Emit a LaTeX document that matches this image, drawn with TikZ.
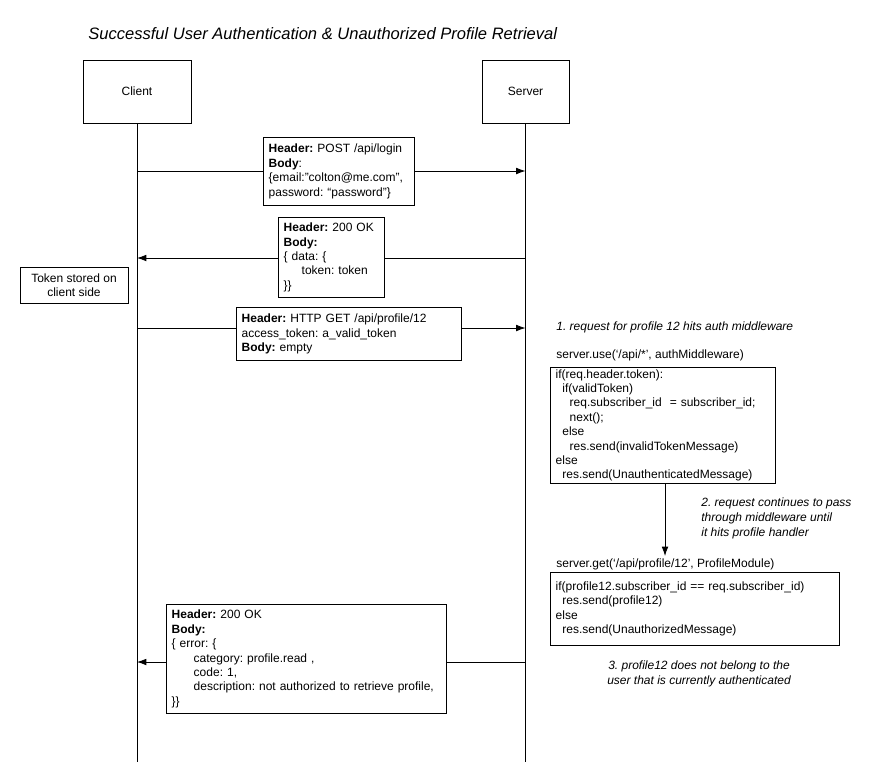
\documentclass[tikz,border=0pt]{standalone}
\usepackage{fontspec}
\setmainfont{Liberation Sans}
\frenchspacing
\usetikzlibrary{arrows, arrows.meta, positioning, calc}

\tikzset{
    actorbox/.style={draw, minimum height=47.25pt, font=\fontsize{9}{10.8}\selectfont},
    msgbox/.style={draw, fill=white, anchor=north west, align=left, inner xsep=4pt, inner ysep=1pt,
        font=\fontsize{9}{10.8}\selectfont},
    plaintext/.style={anchor=west, inner sep=0pt, font=\fontsize{9}{10.8}\selectfont},
    notetext/.style={inner sep=0pt, font=\fontsize{9}{11.25}\selectfont\itshape}
}

\begin{document}
\begin{tikzpicture}[>={Latex[length=7pt, width=5pt]}, x=0.75pt, y=-0.75pt, line width=0.6pt]
    \useasboundingbox (0,0) rectangle (884,782);

    \node[notetext, anchor=west, font=\fontsize{12.4}{14}\selectfont\itshape] (title) at (88,34)
        {Successful User Authentication \& Unauthorized Profile Retrieval};

    % actors and lifelines
    \node[actorbox, minimum width=81pt] (client) at (137,91.5) {Client};
    \node[actorbox, minimum width=65.25pt] (server) at (525.5,91.5) {Server};
    \coordinate (clientend) at (137,762);
    \coordinate (serverend) at (525.5,762);
    \draw (client) -- (clientend);
    \draw (server) -- (serverend);

    % login request
    \coordinate (c1) at (137,171);
    \coordinate (s1) at (525.5,171);
    \node[msgbox, text width=105.25pt, minimum height=51pt] (login) at (263,137)
        {\textbf{Header:} POST /api/login\\ \textbf{Body}:\\ \{email:”colton@me.com”,\\ password: “password”\}};
    \draw (c1) -- (c1 -| login.west);
    \draw[->] (c1 -| login.east) -- (s1);

    % login response
    \coordinate (c2) at (137,258);
    \coordinate (s2) at (525.5,258);
    \node[msgbox, text width=71.5pt, minimum height=60pt] (loginok) at (278,217)
        {\textbf{Header:} 200 OK\\ \textbf{Body:}\\ \{ data: \{\\ \hspace*{13.5pt}token: token\\ \}\}};
    \draw (s2) -- (s2 -| loginok.east);
    \draw[->] (s2 -| loginok.west) -- (c2);

    \node[draw, align=center, minimum width=81pt, minimum height=27pt, inner sep=1pt,
        font=\fontsize{9}{10.8}\selectfont] (stored) at (74,285) {Token stored on\\ client side};

    % profile request
    \coordinate (c3) at (137,328);
    \coordinate (s3) at (525.5,328);
    \node[msgbox, text width=160.75pt, minimum height=39.75pt] (getprofile) at (236,307)
        {\textbf{Header:} HTTP GET /api/profile/12\\ access\_token: a\_valid\_token\\ \textbf{Body:} empty};
    \draw (c3) -- (c3 -| getprofile.west);
    \draw[->] (c3 -| getprofile.east) -- (s3);

    % server side
    \node[notetext, anchor=west] (step1) at (556,327) {1. request for profile 12 hits auth middleware};
    \node[plaintext] (use) at (556,355) {server.use(‘/api/*’, authMiddleware)};
    \node[msgbox, text width=160.75pt, minimum height=87pt] (auth) at (550,367)
        {if(req.header.token):\\
         \hspace*{5pt}if(validToken)\\
         \hspace*{10.5pt}req.subscriber\_id \ = subscriber\_id;\\
         \hspace*{10.5pt}next();\\
         \hspace*{5pt}else\\
         \hspace*{10.5pt}res.send(invalidTokenMessage)\\
         else\\
         \hspace*{5pt}res.send(UnauthenticatedMessage)};
    \coordinate (handlerin) at (665,556);
    \draw[->] (auth.south -| handlerin) -- (handlerin);
    \node[notetext, anchor=north west, align=left] (step2) at (701,497)
        {2. request continues to pass\\ through middleware until\\ it hits profile handler};

    \node[plaintext] (get) at (556,564) {server.get(‘/api/profile/12’, ProfileModule)};
    \node[msgbox, text width=208.75pt, minimum height=54.75pt] (handler) at (550,572)
        {if(profile12.subscriber\_id == req.subscriber\_id)\\
         \hspace*{5pt}res.send(profile12)\\
         else\\
         \hspace*{5pt}res.send(UnauthorizedMessage)};
    \node[notetext, align=center] (step3) at (699,674)
        {3. profile12 does not belong to the\\ user that is currently authenticated};

    % unauthorized response
    \coordinate (c4) at (137,662);
    \coordinate (s4) at (525.5,662);
    \node[msgbox, text width=202pt, minimum height=81.75pt] (denied) at (166,604)
        {\textbf{Header:} 200 OK\\ \textbf{Body:}\\ \{ error: \{\\
         \hspace*{16.5pt}category: profile.read ,\\
         \hspace*{16.5pt}code: 1,\\
         \hspace*{16.5pt}description: not authorized to retrieve profile,\\
         \}\}};
    \draw (s4) -- (s4 -| denied.east);
    \draw[->] (s4 -| denied.west) -- (c4);
\end{tikzpicture}
\end{document}
